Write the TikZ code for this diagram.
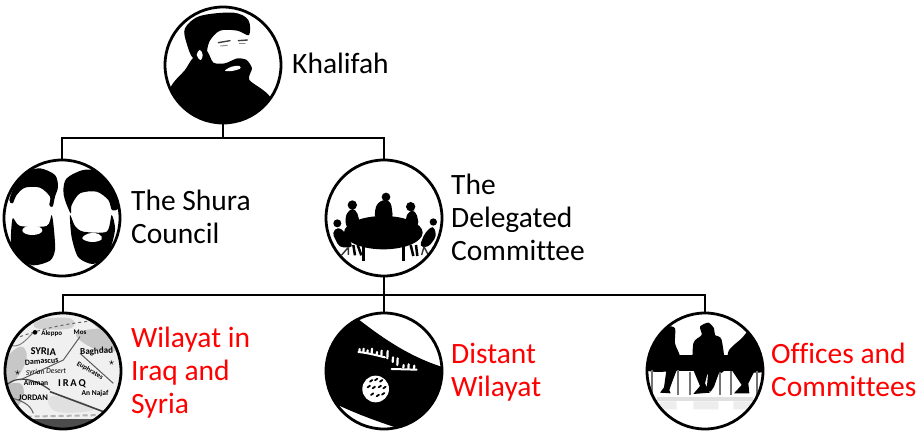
\documentclass[tikz,border=0pt]{standalone}
\usepackage{fontspec}
\setmainfont[Ligatures=NoCommon]{Carlito}
\usetikzlibrary{calc}
\newcommand{\portrait}[5]{% cx cy r ox/oy content
  \begin{scope}
    \clip (#1,#2) circle[radius=#3pt];
    \begin{scope}[shift={(#4)},x=0.33333pt,y=-0.33333pt]
      #5
    \end{scope}
  \end{scope}}
\tikzset{
  org/.style={draw=black,line width=2.8pt,circle,inner sep=0pt,minimum size=#1},
  link/.style={draw=black,line width=2.8pt},
  lab/.style={font=\fontsize{29.5}{33}\selectfont,align=left,anchor=west,inner sep=0pt},
  labred/.style={lab,text=labelred},
  maptxt/.style={font=\fontsize{#1}{#1}\selectfont\bfseries,text=black,inner sep=0pt},
}
\definecolor{labelred}{RGB}{255,0,0}
\begin{document}
\begin{tikzpicture}[x=1pt,y=-1pt]
\useasboundingbox (0,0) rectangle (922,433);
\fill[white] (0,0) rectangle (922,433);

% ---- Khalifah portrait
\portrait{223}{65}{58}{150,0}{
  \fill plot[smooth cycle,tension=.55] coordinates {(105,85)(150,48)(250,38)(295,60)(297,105)(262,92)(210,92)(178,125)(165,170)(130,175)(110,130)};
  \fill plot[smooth cycle,tension=.4] coordinates {(128,175)(168,150)(190,188)(225,190)(262,175)(290,180)(306,205)(298,240)(360,290)(420,420)(10,420)(60,265)(105,210)};
  \fill[white] plot[smooth cycle,tension=.7] coordinates {(140,165)(150,150)(158,165)(152,180)};
  \fill[white] plot[smooth cycle,tension=.6] coordinates {(225,212)(245,200)(268,198)(270,206)(245,213)};
  \draw[black!75,line width=1.4pt,line cap=round] (205,128) -- (240,122);
  \draw[black!75,line width=1.4pt,line cap=round] (265,122) -- (292,120);
  \draw[black!45,line width=1pt,line cap=round] (212,138) -- (232,136);
  \draw[black!45,line width=1pt,line cap=round] (268,132) -- (285,132);
}

% ---- Shura portrait
\portrait{62}{218}{58}{0,150}{
  \fill plot[smooth cycle,tension=.5] coordinates {(28,150)(45,105)(75,68)(120,55)(165,75)(174,110)(165,140)(158,170)(148,165)(150,140)(120,113)(75,113)(50,135)(38,160)};
  \fill plot[smooth cycle,tension=.45] coordinates {(38,205)(60,228)(140,228)(155,195)(162,240)(165,300)(150,332)(100,346)(50,322)(33,280)};
  \fill[white] (97,241) ellipse[x radius=30,y radius=14];
  \fill plot[smooth cycle,tension=.5] coordinates {(190,120)(200,85)(250,60)(310,65)(345,110)(356,172)(336,180)(325,150)(290,125)(240,130)(215,165)(212,190)(195,150)};
  \fill plot[smooth cycle,tension=.45] coordinates {(210,195)(225,228)(250,245)(320,245)(335,195)(345,240)(325,310)(280,342)(235,322)(215,262)};
  \fill[white] plot[smooth cycle,tension=.7] coordinates {(247,265)(268,250)(296,252)(305,268)(275,276)};
}

% ---- Delegated committee portrait
\portrait{384}{218}{58}{320,150}{
  \fill (190,248) ellipse[x radius=118,y radius=50];
  \fill (198,141) circle[radius=13];
  \fill[rounded corners=6pt] (162,182) -- (178,150) -- (212,150) -- (220,210) -- (168,212) -- cycle;
  \fill (97,165) circle[radius=14];
  \fill[rounded corners=5pt] (74,205) -- (88,176) -- (108,176) -- (122,225) -- (82,240) -- cycle;
  \fill (52,220) circle[radius=12];
  \fill[rounded corners=4pt] (36,248) -- (55,230) -- (78,250) -- (100,292) -- (58,292) -- cycle;
  \fill (272,170) circle[radius=14];
  \fill[rounded corners=5pt] (255,208) -- (268,180) -- (288,182) -- (298,230) -- (262,230) -- cycle;
  \fill (340,216) circle[radius=11];
  \fill[rounded corners=4pt] (315,248) -- (340,226) -- (350,258) -- (325,292) -- (298,290) -- cycle;
  \draw[line width=3pt] (130,285) -- (130,332) (250,285) -- (250,332);
  \draw[line width=2.5pt] (100,285) -- (105,316) (113,285) -- (124,316) (272,285) -- (280,318) (288,285) -- (292,318);
  \draw[black!80,line width=1.4pt] (85,292) -- (65,315) (85,292) -- (85,315) (312,290) -- (325,315) (312,290) -- (305,315);
}

% ---- Map portrait
\portrait{63}{371}{58}{0,300}{
  \fill[black!6] (0,20) rectangle (390,400);
  \fill[black!22] plot[smooth cycle,tension=.7] coordinates {(10,190)(60,140)(80,175)(45,240)(5,260)};
  \fill[black!22] plot[smooth cycle,tension=.7] coordinates {(230,100)(330,90)(350,150)(280,145)};
  \fill[black!18] plot[smooth cycle,tension=.7] coordinates {(120,60)(210,55)(210,85)(110,85)};
  \fill[black!25] plot[smooth cycle,tension=.7] coordinates {(10,265)(60,250)(70,290)(40,330)(15,320)};
  \fill[black!12] plot[smooth cycle,tension=.7] coordinates {(150,290)(230,300)(280,330)(170,335)};
  \fill[black!70] (0,356) rectangle (390,420);
  \draw[black!30,line width=2pt,dash pattern=on 5pt off 3pt] (80,350) -- (310,345);
  \draw[black!75,line width=1.2pt] (15,260) .. controls (50,220) and (110,240) .. (150,270);
  \draw[black!75,line width=1.6pt] (150,275) -- (310,335);
  \draw[black!65,line width=1pt] (190,180) -- (240,110) (190,180) -- (60,240) (240,160) -- (340,250);
  \draw[black!60,line width=1pt,dashed] (60,110) .. controls (130,85) and (200,70) .. (300,60);
  \draw[black!65,line width=1pt] (20,290) .. controls (60,300) and (90,310) .. (100,340);
  \draw[black!50,line width=1pt] (20,130) .. controls (50,150) and (70,130) .. (100,97) (270,60) .. controls (290,80) and (320,100) .. (350,110);
  \fill (105,97) circle[radius=7];
  \node[maptxt=7] (mapA) at (155,100) {Aleppo};
  \node[maptxt=7] (mapB) at (240,98) {Mos};
  \node[maptxt=10.5,rotate=-2] (mapC) at (130,155) {SYRIA};
  \node[maptxt=8,rotate=4] (mapD) at (125,184) {Damascus};
  \node[maptxt=9,rotate=3] (mapE) at (290,155) {Baghdad};
  \node[maptxt=7.5,rotate=3,font=\fontsize{7.5}{7.5}\selectfont\itshape] (mapF) at (138,216) {Syrian Desert};
  \node[maptxt=7.5] (mapG) at (108,248) {Amman};
  \node[maptxt=10.5] (mapH) at (216,252) {I\,R\,A\,Q};
  \node[maptxt=7,rotate=-30] (mapI) at (270,212) {Euphrates};
  \node[maptxt=7.5] (mapJ) at (285,280) {An Najaf};
  \node[maptxt=8.5] (mapK) at (100,292) {JORDAN};
  \node[maptxt=11] (mapL) at (53,220) {$\star$};
  \node[maptxt=11] (mapM) at (335,188) {$\star$};
}

% ---- Flag portrait
\portrait{384}{371}{58}{320,300}{
  \fill (105,50) .. controls (170,100) and (260,170) .. (380,205) -- (400,420) -- (300,405) .. controls (200,375) and (130,350) .. (60,318) -- (-10,300) -- (-10,20) -- cycle;
  \fill[white] (0,160) -- (20,165) -- (14,240) -- (0,260) -- cycle;
  \fill[white] (167,267) circle[radius=40];
  \foreach \mx/\my in {150/245,165/241,180/245,143/262,158/265,176/262,190/265,153/285,170/289,186/284}{
    \draw[line width=1.8pt,line cap=round] (\mx,\my) -- ++(7,-5);
  }
  \foreach \mx/\my/\mh in {118/155/8,130/156/10,142/158/7,155/160/14,170/164/8,184/167/15,202/175/22,218/186/14,232/195/20,250/203/8,265/205/12,282/206/9}{
    \draw[white,line width=2.2pt,line cap=round] (\mx,\my) -- ++(1,-\mh);
  }
  \draw[white,line width=2pt,line cap=round] (115,156) .. controls (140,158) and (170,166) .. (195,172);
  \draw[white,line width=2pt,line cap=round] (215,207) -- (290,209);
}

% ---- Offices portrait
\portrait{705}{371}{58}{640,300}{
  \fill[black!12] (50,292) rectangle (340,304);
  \fill[black!7] (60,304) rectangle (110,328) (160,304) rectangle (235,328) (280,304) rectangle (335,328);
  \fill (0,165) rectangle (390,212);
  \fill plot[smooth cycle,tension=.45] coordinates {(80,82)(105,85)(105,130)(120,170)(110,210)(20,210)(40,130)};
  \fill plot[smooth cycle,tension=.45] coordinates {(180,80)(205,68)(222,85)(225,105)(245,120)(250,215)(165,215)(160,130)(185,105)};
  \fill plot[smooth cycle,tension=.45] coordinates {(305,115)(330,90)(370,100)(390,210)(275,210)(265,155)};
  \draw[black!55,line width=2pt] (35,210) -- (35,285) (115,210) -- (115,285) (150,215) -- (150,285) (240,215) -- (240,285) (272,212) -- (272,285) (352,212) -- (352,285);
  \fill plot coordinates {(80,205)(112,205)(95,250)(88,270)(92,280)(60,278)(72,262)};
  \fill plot coordinates {(160,210)(205,210)(195,250)(210,278)(160,282)(180,258)};
  \fill plot coordinates {(205,210)(240,210)(222,260)(212,275)(200,270)};
  \fill plot coordinates {(275,210)(345,210)(325,250)(328,280)(282,280)(305,255)};
}

% ---- Nodes
\node[org=116pt] (khalifah) at (223,65) {};
\node[org=116pt] (shura) at (62,218) {};
\node[org=116pt] (delegated) at (384,218) {};
\node[org=116pt] (wilayat) at (63,371) {};
\node[org=116pt] (distant) at (384,371) {};
\node[org=116pt] (offices) at (705,371) {};

\node[lab] (tKhalifah) at (292,63) {Khalifah};
\node[lab] (tShura) at (131,217) {The Shura\\Council};
\node[lab] (tDelegated) at (451,217) {The\\Delegated\\Committee};
\node[labred] (tWilayat) at (131,373) {Wilayat in\\Iraq and\\Syria};
\node[labred] (tDistant) at (451,372) {Distant\\Wilayat};
\node[labred] (tOffices) at (771,370) {Offices and\\Committees};

% ---- Connectors
\coordinate (busA) at (223,138);
\coordinate (busB) at (384,295);
\draw[link] (khalifah.south) -- (busA);
\draw[link] (shura.north) |- (busA);
\draw[link] (delegated.north) |- (busA);
\draw[link] (delegated.south) -- (distant.north);
\draw[link] (wilayat.north) |- (busB);
\draw[link] (offices.north) |- (busB);
\end{tikzpicture}
\end{document}
